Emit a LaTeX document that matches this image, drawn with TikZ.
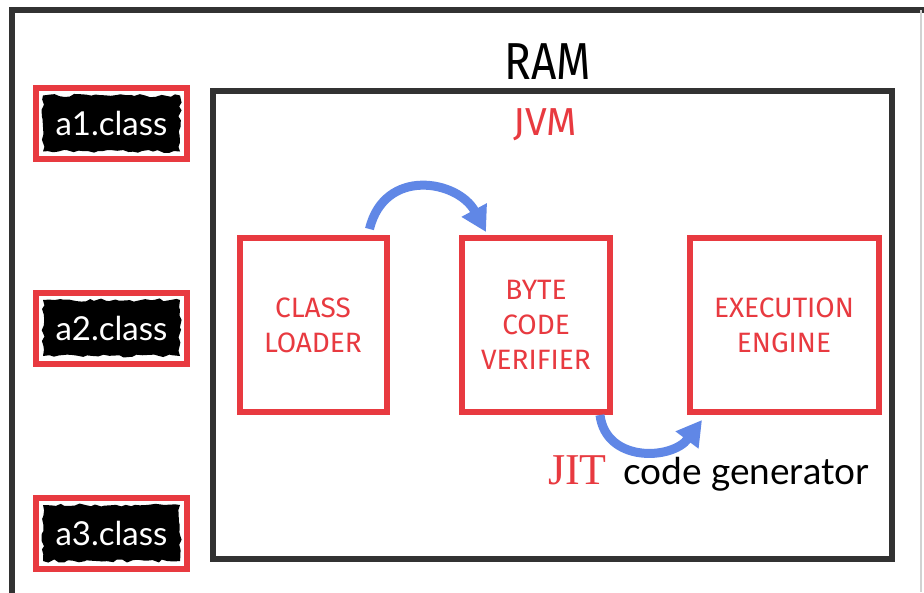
\documentclass[tikz,border=0pt]{standalone}
\usepackage{fontspec}
\setmainfont{Fira Sans}
\newfontfamily\handf[FakeStretch=0.85]{Fira Sans}
\newfontfamily\labf{Fira Sans}
\newfontfamily\gillf{Lato}
\newfontfamily\jitf{Liberation Serif}
\usetikzlibrary{arrows.meta,decorations.pathmorphing}
\definecolor{redc}{RGB}{232,58,64}
\definecolor{bluec}{RGB}{96,135,230}
\definecolor{framec}{RGB}{50,50,50}
\begin{document}
\begin{tikzpicture}[x=1pt,y=-1pt,
  frame/.style={draw=framec, line width=6pt},
  stagebox/.style={draw=redc, line width=6pt, fill=white, minimum height=174pt,
     align=center, text=redc, font=\labf\fontsize{28}{35}\selectfont, inner sep=0pt},
  classbox/.style={draw=redc, line width=6pt, fill=white, minimum width=151pt, minimum height=71pt, inner sep=0pt},
  classblob/.style={fill=black, text=white, minimum width=137pt, minimum height=56pt, inner sep=0pt,
     font=\gillf\fontsize{33}{33}\selectfont,
     decorate, decoration={random steps, segment length=5pt, amplitude=1.6pt}},
  flow/.style={draw=bluec, line width=9pt, -{Triangle[length=25pt,width=27pt]}}
]
\pgfmathsetseed{7}
\useasboundingbox (0,0) rectangle (924,592);
\fill[white] (0,0) rectangle (924,592);
% RAM frame
\draw[frame] (12,595) -- (12,10) -- (927,10);
\draw[gray!35, line width=2pt] (921,10) -- (921,592);
\node[anchor=base] (ram) at (548,79) {\handf\fontsize{52}{52}\selectfont RAM};
% JVM frame
\node[frame, minimum width=679pt, minimum height=468pt, inner sep=0pt] (jvm) at (552.5,325) {};
\node[anchor=base, text=redc] (jvmlabel) at (545,135) {\labf\fontsize{39}{39}\selectfont JVM};
% class files
\node[classbox] (a1) at (111.5,123.5) {};
\node[classblob] (a1t) at (a1) {a1.class};
\node[classbox] (a2) at (111.5,328) {};
\node[classblob] (a2t) at (a2) {a2.class};
\node[classbox] (a3) at (111.5,533) {};
\node[classblob] (a3t) at (a3) {a3.class};
% stages
\node[stagebox, minimum width=147pt] (cl) at (313,325) {CLASS\\LOADER};
\node[stagebox, minimum width=148pt] (bcv) at (536,325) {BYTE\\CODE\\VERIFIER};
\node[stagebox, minimum width=189pt] (ee) at (784,325) {EXECUTION\\ENGINE};
% arrows
\draw[flow] ([xshift=-20pt,yshift=6pt]cl.north east) .. controls +(15,-62) and +(-28,-52) .. ([xshift=27pt,yshift=3pt]bcv.north west);
\draw[flow] ([xshift=-13pt,yshift=0pt]bcv.south east) .. controls +(6,48) and +(-30,40) .. ([xshift=15.5pt,yshift=-5pt]ee.south west);
% JIT label
\node[anchor=base west, inner sep=0pt, text=redc] (jit) at (548,484) {\jitf\fontsize{44}{44}\selectfont JIT};
\node[anchor=base west, inner sep=0pt] (cg) at (623,484) {\gillf\fontsize{37}{37}\selectfont code generator};
\end{tikzpicture}
\end{document}
